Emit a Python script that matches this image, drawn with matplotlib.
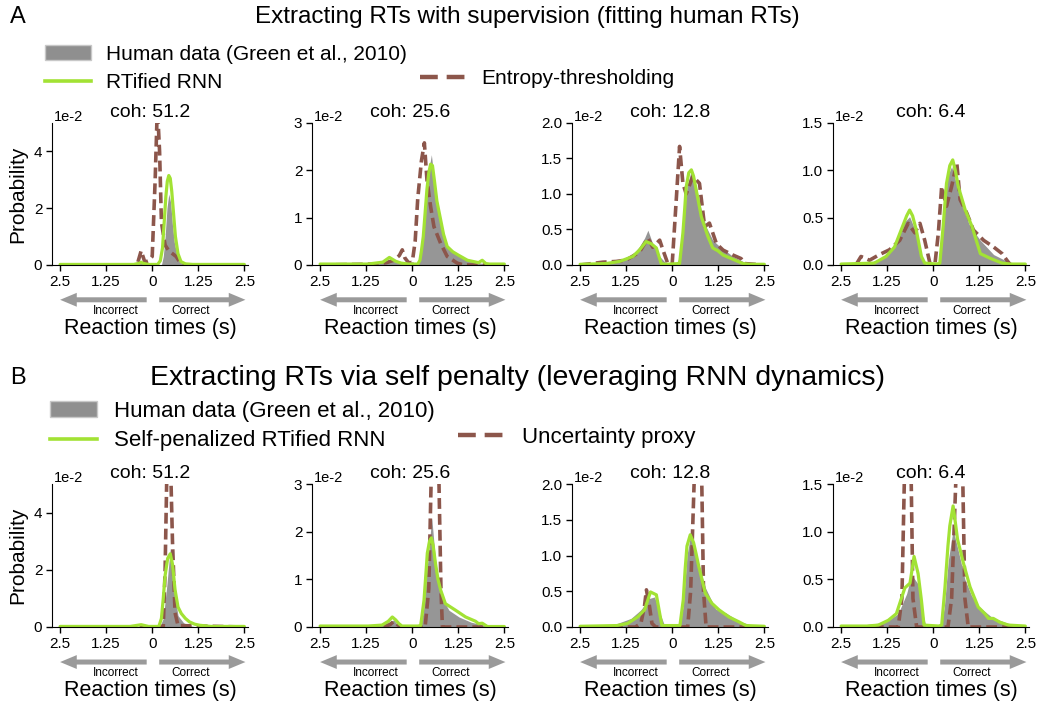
import matplotlib
matplotlib.use('Agg')
import matplotlib.pyplot as plt
from matplotlib.patches import Patch
from matplotlib.lines import Line2D

plt.rcParams['font.family'] = ['Liberation Sans', 'DejaVu Sans']

HUMAN_C = '#969696'
RNN_C = '#a2e234'
PROXY_C = '#8c564b'

coherences = ['51.2', '25.6', '12.8', '6.4']
tick_pos = [-2.5, -1.25, 0, 1.25, 2.5]
tick_lab = ['2.5', '1.25', '0', '1.25', '2.5']

# ---- row A : supervised (values in units of 1e-2) ----
a1_human_x = [-2.5, -0.45, -0.3, -0.15, 0.25, 0.3, 0.35, 0.4, 0.45, 0.5, 0.55, 0.6, 0.68, 0.8, 1.0, 2.5]
a1_human_y = [0, 0, 0.12, 0, 0, 0.3, 1.0, 2.0, 2.5, 2.2, 1.4, 0.8, 0.3, 0.06, 0, 0]
a1_rnn_x = [-2.5, -0.5, -0.35, -0.3, -0.25, -0.1, 0.15, 0.22, 0.28, 0.33, 0.37, 0.41, 0.45, 0.49, 0.53, 0.58, 0.63, 0.7, 0.78, 0.9, 1.1, 2.5]
a1_rnn_y = [0.02, 0.02, 0.06, 0.1, 0.06, 0.02, 0.02, 0.15, 0.6, 1.6, 2.4, 2.95, 3.15, 3.05, 2.6, 1.8, 1.0, 0.4, 0.12, 0.04, 0.02, 0.02]
a1_proxy_x = [-2.5, -0.5, -0.4, -0.3, -0.2, -0.1, 0.0, 0.08, 0.14, 0.2, 0.25, 0.35, 0.45, 0.55, 0.65, 0.75, 0.9, 2.5]
a1_proxy_y = [0, 0, 0.05, 0.5, 0.1, 0.15, 0.3, 3.0, 5.6, 4.0, 1.5, 0.7, 0.5, 0.4, 0.3, 0.1, 0, 0]

a2_human_x = [-2.5, -1.2, -0.8, -0.6, -0.45, -0.3, -0.15, 0.15, 0.25, 0.35, 0.45, 0.52, 0.6, 0.75, 0.95, 1.25, 1.6, 2.0, 2.5]
a2_human_y = [0, 0.02, 0.08, 0.12, 0.08, 0.05, 0.02, 0.02, 0.3, 1.2, 2.0, 2.33, 1.8, 1.0, 0.4, 0.2, 0.08, 0.02, 0]
a2_rnn_x = [-2.5, -1.2, -0.8, -0.62, -0.45, -0.3, -0.1, 0.15, 0.21, 0.25, 0.3, 0.35, 0.4, 0.45, 0.5, 0.55, 0.6, 0.67, 0.76, 0.85, 0.95, 1.1, 1.25, 1.5, 1.8, 1.9, 2.0, 2.1, 2.5]
a2_rnn_y = [0.02, 0.02, 0.06, 0.16, 0.08, 0.04, 0.02, 0.02, 0.1, 0.3, 0.6, 1.1, 1.6, 1.95, 2.13, 2.1, 1.8, 1.35, 1.0, 0.65, 0.39, 0.28, 0.21, 0.1, 0.05, 0.1, 0.03, 0.02, 0.02]
a2_proxy_x = [-2.5, -1.0, -0.7, -0.5, -0.35, -0.27, -0.2, -0.1, 0.0, 0.08, 0.15, 0.25, 0.33, 0.4, 0.5, 0.59, 0.77, 0.95, 1.22, 1.4, 2.5]
a2_proxy_y = [0, 0.02, 0.05, 0.1, 0.2, 0.32, 0.15, 0.05, 0.05, 0.5, 1.4, 2.2, 2.58, 1.8, 1.23, 0.81, 0.46, 0.18, 0.04, 0, 0]

a3_human_x = [-2.5, -1.88, -1.5, -1.16, -0.89, -0.75, -0.66, -0.53, -0.34, -0.16, 0.1, 0.2, 0.3, 0.4, 0.52, 0.65, 0.8, 0.92, 1.1, 1.29, 1.45, 1.65, 2.0, 2.3, 2.5]
a3_human_y = [0, 0.02, 0.04, 0.09, 0.26, 0.38, 0.49, 0.3, 0.12, 0.02, 0.02, 0.1, 0.6, 1.1, 1.34, 1.1, 0.75, 0.54, 0.35, 0.26, 0.2, 0.12, 0.03, 0.01, 0]
a3_rnn_x = [-2.5, -1.8, -1.43, -1.07, -0.89, -0.71, -0.57, -0.43, -0.3, -0.2, 0.2, 0.29, 0.34, 0.38, 0.45, 0.52, 0.58, 0.65, 0.79, 0.97, 1.1, 1.24, 1.38, 1.65, 1.92, 2.1, 2.5]
a3_rnn_y = [0.01, 0.02, 0.05, 0.12, 0.21, 0.33, 0.3, 0.24, 0.02, 0.01, 0.02, 0.45, 0.8, 1.1, 1.3, 1.34, 1.25, 1.06, 0.68, 0.4, 0.24, 0.2, 0.14, 0.08, 0.02, 0.01, 0.01]
a3_proxy_x = [-2.5, -1.88, -1.52, -1.25, -0.89, -0.66, -0.53, -0.34, -0.25, -0.12, 0.0, 0.11, 0.2, 0.29, 0.38, 0.56, 0.74, 0.88, 1.01, 1.2, 1.38, 1.65, 1.87, 1.97, 2.5]
a3_proxy_y = [0, 0.04, 0.05, 0.07, 0.18, 0.38, 0.25, 0.35, 0.21, 0.02, 0.02, 0.92, 1.67, 1.15, 1.0, 1.25, 1.15, 0.54, 0.59, 0.3, 0.21, 0.14, 0.09, 0.02, 0]

a4_human_x = [-2.5, -1.92, -1.46, -1.09, -0.82, -0.64, -0.46, -0.32, -0.2, 0.15, 0.27, 0.4, 0.5, 0.6, 0.73, 0.85, 1.0, 1.28, 1.64, 2.0, 2.3, 2.5]
a4_human_y = [0, 0.02, 0.05, 0.19, 0.44, 0.51, 0.34, 0.09, 0.0, 0.02, 0.51, 0.95, 1.04, 0.9, 0.72, 0.55, 0.41, 0.26, 0.11, 0.04, 0.01, 0]
a4_rnn_x = [-2.5, -1.6, -1.28, -1.05, -0.87, -0.72, -0.64, -0.56, -0.46, -0.32, -0.23, 0.1, 0.18, 0.27, 0.36, 0.45, 0.53, 0.6, 0.68, 0.87, 1.05, 1.28, 1.55, 1.87, 2.1, 2.5]
a4_rnn_y = [0.01, 0.02, 0.09, 0.19, 0.37, 0.52, 0.58, 0.52, 0.37, 0.09, 0.02, 0.01, 0.02, 0.41, 0.86, 1.05, 1.11, 1.0, 0.83, 0.58, 0.41, 0.12, 0.07, 0.02, 0.01, 0.01]
a4_proxy_x = [-2.5, -2.1, -1.96, -1.73, -1.46, -1.19, -0.91, -0.68, -0.5, -0.36, -0.23, -0.09, 0.05, 0.14, 0.23, 0.36, 0.5, 0.64, 0.73, 0.91, 1.09, 1.37, 1.64, 1.87, 2.0, 2.1, 2.5]
a4_proxy_y = [0, 0, 0.09, 0.05, 0.11, 0.16, 0.26, 0.44, 0.34, 0.44, 0.26, 0.02, 0.02, 0.34, 0.83, 0.62, 0.83, 1.08, 0.69, 0.55, 0.37, 0.26, 0.19, 0.12, 0.05, 0, 0]

# ---- row B : self penalty (values in units of 1e-2) ----
b1_human_x = [-2.5, 0.2, 0.3, 0.4, 0.49, 0.6, 0.7, 0.85, 1.0, 1.2, 2.5]
b1_human_y = [0, 0, 0.3, 1.5, 2.76, 1.2, 0.4, 0.15, 0.05, 0, 0]
b1_rnn_x = [-2.5, -0.6, -0.3, -0.1, 0.18, 0.25, 0.3, 0.35, 0.42, 0.49, 0.55, 0.62, 0.7, 0.79, 0.9, 1.01, 1.15, 1.29, 1.6, 2.5]
b1_rnn_y = [0.02, 0.02, 0.08, 0.02, 0.02, 0.3, 1.0, 1.8, 2.4, 2.56, 2.2, 1.3, 0.7, 0.47, 0.3, 0.18, 0.1, 0.06, 0.02, 0.02]
b1_proxy_x = [-2.5, 0.3, 0.35, 0.4, 0.5, 0.55, 0.62, 0.7, 2.5]
b1_proxy_y = [0, 0, 2.0, 5.6, 5.6, 3.0, 0.5, 0.05, 0]

b2_human_x = [-2.5, -1.5, -1.18, -0.72, -0.5, -0.4, -0.3, 0.2, 0.3, 0.4, 0.53, 0.62, 0.72, 0.85, 1.0, 1.27, 1.6, 2.0, 2.5]
b2_human_y = [0, 0.01, 0.03, 0.08, 0.15, 0.05, 0, 0, 0.3, 1.2, 2.29, 1.5, 0.85, 0.55, 0.35, 0.21, 0.1, 0.03, 0]
b2_rnn_x = [-2.5, -1.2, -0.82, -0.65, -0.54, -0.45, -0.36, -0.28, 0.15, 0.23, 0.32, 0.37, 0.41, 0.47, 0.52, 0.57, 0.63, 0.7, 0.77, 0.9, 1.18, 1.45, 1.72, 1.8, 1.9, 2.04, 2.5]
b2_rnn_y = [0.02, 0.02, 0.04, 0.12, 0.21, 0.15, 0.07, 0.02, 0.02, 0.03, 0.56, 1.1, 1.55, 1.8, 1.87, 1.7, 1.34, 1.0, 0.78, 0.49, 0.35, 0.21, 0.12, 0.07, 0.08, 0.01, 0.01]
b2_proxy_x = [-2.5, -0.8, -0.6, -0.5, -0.4, -0.3, 0.35, 0.45, 0.52, 0.72, 0.78, 0.82, 2.5]
b2_proxy_y = [0, 0, 0.05, 0.12, 0.05, 0, 0, 0.8, 3.3, 3.3, 0.8, 0, 0]

b3_human_x = [-2.5, -1.76, -1.49, -1.12, -0.85, -0.62, -0.48, -0.34, -0.2, 0.2, 0.3, 0.4, 0.51, 0.65, 0.9, 1.18, 1.45, 1.82, 2.2, 2.5]
b3_human_y = [0, 0.02, 0.05, 0.12, 0.24, 0.4, 0.42, 0.2, 0.01, 0.01, 0.3, 1.0, 1.32, 1.0, 0.55, 0.25, 0.2, 0.08, 0.02, 0]
b3_rnn_x = [-2.5, -1.5, -1.21, -0.94, -0.75, -0.59, -0.43, -0.34, -0.28, 0.21, 0.3, 0.35, 0.4, 0.49, 0.58, 0.65, 0.72, 0.9, 1.08, 1.27, 1.54, 1.82, 2.0, 2.5]
b3_rnn_y = [0.01, 0.02, 0.05, 0.14, 0.24, 0.49, 0.45, 0.19, 0.02, 0.02, 0.38, 0.8, 1.13, 1.29, 1.18, 1.02, 0.85, 0.47, 0.33, 0.24, 0.14, 0.07, 0.02, 0.01]
b3_proxy_x = [-2.5, -1.0, -0.85, -0.75, -0.7, -0.62, -0.55, -0.45, 0.42, 0.5, 0.6, 0.8, 0.85, 0.92, 2.5]
b3_proxy_y = [0, 0, 0.05, 0.3, 0.52, 0.3, 0.05, 0, 0, 0.5, 2.1, 2.1, 0.5, 0, 0]

b4_human_x = [-2.5, -1.95, -1.49, -1.22, -0.95, -0.72, -0.59, -0.41, -0.32, -0.2, 0.2, 0.3, 0.41, 0.54, 0.68, 0.86, 1.04, 1.22, 1.6, 1.95, 2.3, 2.5]
b4_human_y = [0, 0.02, 0.04, 0.07, 0.14, 0.35, 0.55, 0.45, 0.2, 0.01, 0.02, 0.2, 0.7, 1.02, 0.8, 0.5, 0.33, 0.22, 0.1, 0.05, 0.01, 0]
b4_rnn_x = [-2.5, -1.8, -1.49, -1.22, -1.0, -0.77, -0.63, -0.52, -0.41, -0.32, -0.25, 0.15, 0.23, 0.32, 0.4, 0.45, 0.54, 0.6, 0.66, 0.82, 1.0, 1.22, 1.4, 1.5, 1.63, 1.81, 2.04, 2.5]
b4_rnn_y = [0.01, 0.01, 0.02, 0.07, 0.14, 0.41, 0.46, 0.74, 0.56, 0.28, 0.02, 0.01, 0.02, 0.42, 0.85, 1.06, 1.27, 1.1, 0.92, 0.67, 0.42, 0.21, 0.14, 0.09, 0.09, 0.05, 0.02, 0.01]
b4_proxy_x = [-2.5, -0.95, -0.85, -0.78, -0.6, -0.55, -0.45, 0.4, 0.5, 0.62, 0.8, 0.86, 0.95, 2.5]
b4_proxy_y = [0, 0, 0.3, 1.6, 1.6, 0.3, 0, 0, 0.3, 1.6, 1.6, 0.3, 0, 0]

ylims = [5, 3, 2, 1.5]
yticks = [[0, 2, 4], [0, 1, 2, 3], [0, 0.5, 1.0, 1.5, 2.0], [0, 0.5, 1.0, 1.5]]
ytick_labels = [['0', '2', '4'], ['0', '1', '2', '3'],
                ['0.0', '0.5', '1.0', '1.5', '2.0'], ['0.0', '0.5', '1.0', '1.5']]

row_a = [(a1_human_x, a1_human_y, a1_rnn_x, a1_rnn_y, a1_proxy_x, a1_proxy_y),
         (a2_human_x, a2_human_y, a2_rnn_x, a2_rnn_y, a2_proxy_x, a2_proxy_y),
         (a3_human_x, a3_human_y, a3_rnn_x, a3_rnn_y, a3_proxy_x, a3_proxy_y),
         (a4_human_x, a4_human_y, a4_rnn_x, a4_rnn_y, a4_proxy_x, a4_proxy_y)]
row_b = [(b1_human_x, b1_human_y, b1_rnn_x, b1_rnn_y, b1_proxy_x, b1_proxy_y),
         (b2_human_x, b2_human_y, b2_rnn_x, b2_rnn_y, b2_proxy_x, b2_proxy_y),
         (b3_human_x, b3_human_y, b3_rnn_x, b3_rnn_y, b3_proxy_x, b3_proxy_y),
         (b4_human_x, b4_human_y, b4_rnn_x, b4_rnn_y, b4_proxy_x, b4_proxy_y)]

W, H = 1042, 707
fig = plt.figure(figsize=(W / 100, H / 100), dpi=100)

lefts = [52, 312, 572, 833]
ax_w = 196
rows_px = [(123, 265), (484, 627)]


def draw_panel(ax, data, i):
    hx, hy, rx, ry, px, py = data
    ax.fill_between(hx, hy, 0, color=HUMAN_C, lw=0)
    ax.plot(px, py, color=PROXY_C, lw=2.6, dashes=(3, 1.4))
    ax.plot(rx, ry, color=RNN_C, lw=2.3, solid_capstyle='round', solid_joinstyle='round')
    ax.set_xlim(-2.72, 2.6)
    ax.set_ylim(0, ylims[i])
    ax.set_xticks(tick_pos)
    ax.set_xticklabels(tick_lab)
    ax.set_yticks(yticks[i])
    ax.set_yticklabels(ytick_labels[i])
    ax.spines['top'].set_visible(False)
    ax.spines['right'].set_visible(False)
    ax.tick_params(labelsize=11, length=4, width=1, pad=3)
    ax.set_title('coh: ' + coherences[i], fontsize=14, pad=4)
    ax.text(0.01, 1.04, '1e-2', transform=ax.transAxes, fontsize=10.5, va='center', ha='left')
    tr = ax.get_xaxis_transform()
    arrow = dict(facecolor='#9a9a9a', edgecolor='none', width=3.6, headwidth=10, headlength=12, shrink=0)
    ax.annotate('', xy=(-2.5, -0.245), xytext=(-0.15, -0.245), xycoords=tr, arrowprops=arrow, annotation_clip=False)
    ax.annotate('', xy=(2.53, -0.245), xytext=(0.19, -0.245), xycoords=tr, arrowprops=arrow, annotation_clip=False)
    ax.text(-1.0, -0.325, 'Incorrect', transform=tr, fontsize=8.5, ha='center', va='center')
    ax.text(1.03, -0.325, 'Correct', transform=tr, fontsize=8.5, ha='center', va='center')
    ax.set_xlabel('Reaction times (s)', fontsize=15.5)
    ax.xaxis.set_label_coords(0.5, -0.37)
    if i == 0:
        ax.set_ylabel('Probability', fontsize=15)
        ax.yaxis.set_label_coords(-0.125, 0.5)


for r, row in enumerate([row_a, row_b]):
    top, bot = rows_px[r]
    for i in range(4):
        ax = fig.add_axes([lefts[i] / W, (H - bot) / H, ax_w / W, (bot - top) / H])
        draw_panel(ax, row[i], i)

# section titles
fig.text(18 / W, 1 - 17 / H, 'A', fontsize=17, ha='center', va='center')
fig.text(527 / W, 1 - 17 / H, 'Extracting RTs with supervision (fitting human RTs)', fontsize=17.5, ha='center', va='center')
fig.text(18 / W, 1 - 378 / H, 'B', fontsize=17, ha='center', va='center')
fig.text(518 / W, 1 - 378 / H, 'Extracting RTs via self penalty (leveraging RNN dynamics)', fontsize=20.5, ha='center', va='center')

human_h = Patch(facecolor='#8f8f8f', edgecolor='#c8c8c8', lw=1)


def rnn_h():
    return Line2D([], [], color=RNN_C, lw=2.6)


def proxy_h():
    return Line2D([], [], color=PROXY_C, lw=3.2, dashes=(4, 2))


leg_a = dict(frameon=False, borderpad=0, borderaxespad=0, handlelength=2.2, handletextpad=0.72, labelspacing=0.45)
leg_b = dict(frameon=False, borderpad=0, borderaxespad=0, handlelength=2.1, handletextpad=0.8, labelspacing=0.38)
fig.legend([human_h, rnn_h()], ['Human data (Green et al., 2010)', 'RTified RNN'],
           loc='upper left', bbox_to_anchor=(45 / W, 1 - 45 / H), fontsize=15, **leg_a)
fig.legend([proxy_h()], ['Entropy-thresholding'],
           loc='center left', bbox_to_anchor=(420 / W, 1 - 79 / H), fontsize=15, **leg_a)
fig.legend([human_h, rnn_h()], ['Human data (Green et al., 2010)', 'Self-penalized RTified RNN'],
           loc='upper left', bbox_to_anchor=(50 / W, 1 - 401 / H), fontsize=16, **leg_b)
fig.legend([proxy_h()], ['Uncertainty proxy'],
           loc='center left', bbox_to_anchor=(458 / W, 1 - 437 / H), fontsize=16, **leg_b)

fig.savefig('out.png', dpi=100)
